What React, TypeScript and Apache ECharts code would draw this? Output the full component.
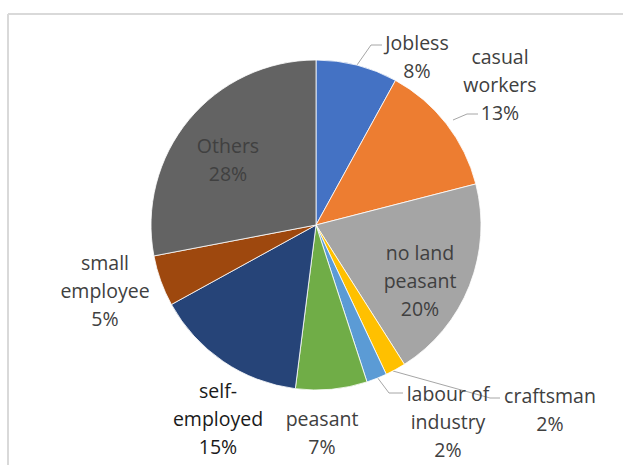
import React, { useEffect, useRef } from "react";
import * as echarts from "echarts";

const categories = [
  "Jobless",
  "casual workers",
  "no land peasant",
  "craftsman",
  "labour of industry",
  "peasant",
  "self-employed",
  "small employee",
  "Others",
];
const labelTexts = [
  "Jobless",
  "casual\nworkers",
  "no land\npeasant",
  "craftsman",
  "labour of\nindustry",
  "peasant",
  "self-\nemployed",
  "small\nemployee",
  "Others",
];
const values = [8, 13, 20, 2, 2, 7, 15, 5, 28];
const colors = [
  "#4472C4",
  "#ED7D31",
  "#A5A5A5",
  "#FFC000",
  "#5B9BD5",
  "#70AD47",
  "#264478",
  "#9E480E",
  "#636363",
];

// label anchor positions (center of each label block)
const labelPos: [number, number][] = [
  [417, 56],
  [500, 84],
  [420, 280],
  [550, 409],
  [448, 421],
  [322, 432],
  [218, 418],
  [105, 290],
  [228, 159],
];
const leaderLines: ([number, number][] | null)[] = [
  [[357, 65], [371, 45], [382, 45]],
  [[453, 120], [467, 114], [478, 114]],
  null,
  [[393, 371], [490, 398], [500, 398]],
  [[377, 377], [389, 393], [403, 393]],
  null,
  null,
  null,
  null,
];

export default function App() {
  const ref = useRef<HTMLDivElement>(null);
  useEffect(() => {
    document.body.style.margin = "0";
    const chart = echarts.init(ref.current!, undefined, { renderer: "svg" });
    chart.setOption({
      animation: false,
      backgroundColor: "#ffffff",
      graphic: [
        {
          type: "line",
          shape: { x1: 8, y1: 14, x2: 623, y2: 14 },
          style: { stroke: "#d9d9d9", lineWidth: 2 },
        },
        {
          type: "line",
          shape: { x1: 8, y1: 14, x2: 8, y2: 465 },
          style: { stroke: "#d9d9d9", lineWidth: 2 },
        },
      ],
      series: [
        {
          type: "pie",
          center: [316, 225],
          radius: 165,
          startAngle: 90,
          clockwise: true,
          avoidLabelOverlap: false,
          itemStyle: { borderColor: "#ffffff", borderWidth: 0.8 },
          label: {
            show: true,
            position: "outside",
            fontFamily: "Open Sans, Noto Sans, sans-serif",
            fontSize: 19.5,
            lineHeight: 28,
            color: "#404040",
            align: "center",
            formatter: (p: any) => `${labelTexts[p.dataIndex]}\n${p.value}%`,
          },
          labelLine: {
            show: true,
            lineStyle: { color: "#a6a6a6", width: 1 },
          },
          labelLayout: (params: any) => {
            const i = params.dataIndex;
            const pos = labelPos[i];
            const res: any = {
              x: pos[0],
              y: pos[1],
              align: "center",
              verticalAlign: "middle",
            };
            if (leaderLines[i]) res.labelLinePoints = leaderLines[i];
            return res;
          },
          data: categories.map((name, i) => ({
            name,
            value: values[i],
            itemStyle: { color: colors[i] },
            label: i === 6 ? { color: "#1a1a1a" } : undefined,
            labelLine: { show: leaderLines[i] !== null },
          })),
        },
      ],
    });
    return () => chart.dispose();
  }, []);
  return <div ref={ref} style={{ width: 623, height: 465 }} />;
}
